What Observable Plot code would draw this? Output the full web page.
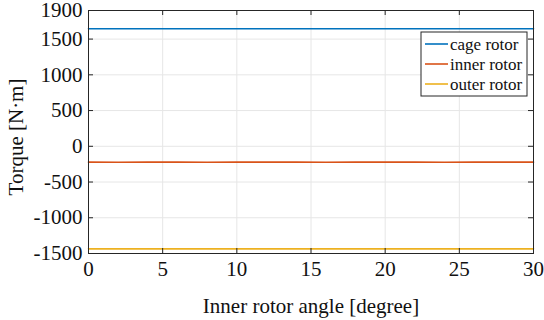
<!DOCTYPE html>
<html>
<head>
<meta charset="utf-8">
<script src="https://cdn.jsdelivr.net/npm/d3@7"></script>
<script src="https://cdn.jsdelivr.net/npm/@observablehq/plot@0.6"></script>
<style>
  html, body { margin: 0; padding: 0; background: #fff; }
  #chart { position: relative; width: 544px; height: 320px; }
  #chart svg text { font-family: 'Liberation Serif', 'Times New Roman', serif; }
</style>
</head>
<body>
<div id="chart"></div>
<script>
// Data
const angle = [0, 2, 4, 6, 8, 10, 12, 14, 16, 18, 20, 22, 24, 26, 28, 30];
const cageRotor = [1645, 1645.5, 1645, 1645, 1645.5, 1645, 1645, 1645, 1645.5, 1645, 1645, 1645, 1645.5, 1645, 1645, 1645];
const innerRotor = [-222, -222.5, -222, -222, -222.5, -222, -222, -222, -222.5, -222, -222, -222, -222.5, -222, -222, -222];
const outerRotor = [-1435, -1435.5, -1435, -1435, -1435.5, -1435, -1435, -1435, -1435.5, -1435, -1435, -1435, -1435.5, -1435, -1435, -1435];
const seriesNames = ["cage rotor", "inner rotor", "outer rotor"];
const seriesColors = ["#0072BD", "#D95319", "#EDB120"];
const xTicks = [0, 5, 10, 15, 20, 25, 30];
const yTicks = [-1500, -1000, -500, 0, 500, 1000, 1500, 1900];
const xLabel = "Inner rotor angle [degree]";
const yLabel = "Torque [N·m]";

const rows = [];
[cageRotor, innerRotor, outerRotor].forEach((vals, i) => {
  vals.forEach((v, j) => rows.push({x: angle[j], y: v, s: seriesNames[i]}));
});

const W = 544, H = 320;
const mL = 88, mR = 11, mT = 10, mB = 67;
const fw = W - mL - mR;
const fh = H - mT - mB;
const tk = 5;
const ink = "#262626";
const serif = "'Liberation Serif', 'Times New Roman', serif";
const fmt = d => String(d);

const plot = Plot.plot({
  width: W,
  height: H,
  marginLeft: mL,
  marginRight: mR,
  marginTop: mT,
  marginBottom: mB,
  style: {fontFamily: serif, fontSize: "21px", color: ink, background: "#fff"},
  x: {domain: [0, 30]},
  y: {domain: [-1500, 1900]},
  color: {domain: seriesNames, range: seriesColors},
  marks: [
    Plot.gridX(xTicks, {stroke: "#e6e6e6", strokeOpacity: 1, strokeWidth: 1}),
    Plot.gridY(yTicks, {stroke: "#e6e6e6", strokeOpacity: 1, strokeWidth: 1}),
    Plot.line(rows, {x: "x", y: "y", z: "s", stroke: "s", strokeWidth: 1.6}),
    // inward ticks
    Plot.tickY(yTicks, {y: d => d, stroke: ink, insetRight: fw - tk}),
    Plot.tickY(yTicks, {y: d => d, stroke: ink, insetLeft: fw - tk}),
    Plot.tickX(xTicks, {x: d => d, stroke: ink, insetTop: fh - tk}),
    Plot.tickX(xTicks, {x: d => d, stroke: ink, insetBottom: fh - tk}),
    Plot.frame({stroke: ink, strokeWidth: 1}),
    Plot.axisY(yTicks, {tickSize: 0, tickPadding: 6, label: null, fontSize: 21, fontFamily: serif, fill: "#111", tickFormat: fmt}),
    Plot.axisX(xTicks, {tickSize: 0, tickPadding: 8, label: null, fontSize: 21, fontFamily: serif, fill: "#111", tickFormat: fmt}),
    Plot.text([xLabel], {frameAnchor: "bottom", dy: 59, fontSize: 21, fontFamily: serif, fill: "#111", text: d => d}),
    Plot.text([yLabel], {frameAnchor: "left", textAnchor: "middle", dx: -72, dy: 5, rotate: -90, fontSize: 21, fontFamily: serif, fill: "#111", text: d => d})
  ]
});

document.getElementById("chart").appendChild(plot);

// Legend (MATLAB-style box)
const svg = d3.select(plot);
const lg = svg.append("g").attr("transform", "translate(421,32)");
lg.append("rect").attr("width", 106).attr("height", 64)
  .attr("fill", "#fff").attr("stroke", ink).attr("stroke-width", 1);
seriesNames.forEach((name, i) => {
  const cy = 12 + i * 20;
  lg.append("line").attr("x1", 4).attr("x2", 27).attr("y1", cy).attr("y2", cy)
    .attr("stroke", seriesColors[i]).attr("stroke-width", 1.6);
  lg.append("text").attr("x", 29).attr("y", cy).attr("dy", "0.35em")
    .attr("text-anchor", "start")
    .attr("font-size", 17).attr("fill", "#111")
    .attr("font-family", serif)
    .text(name);
});
</script>
</body>
</html>
